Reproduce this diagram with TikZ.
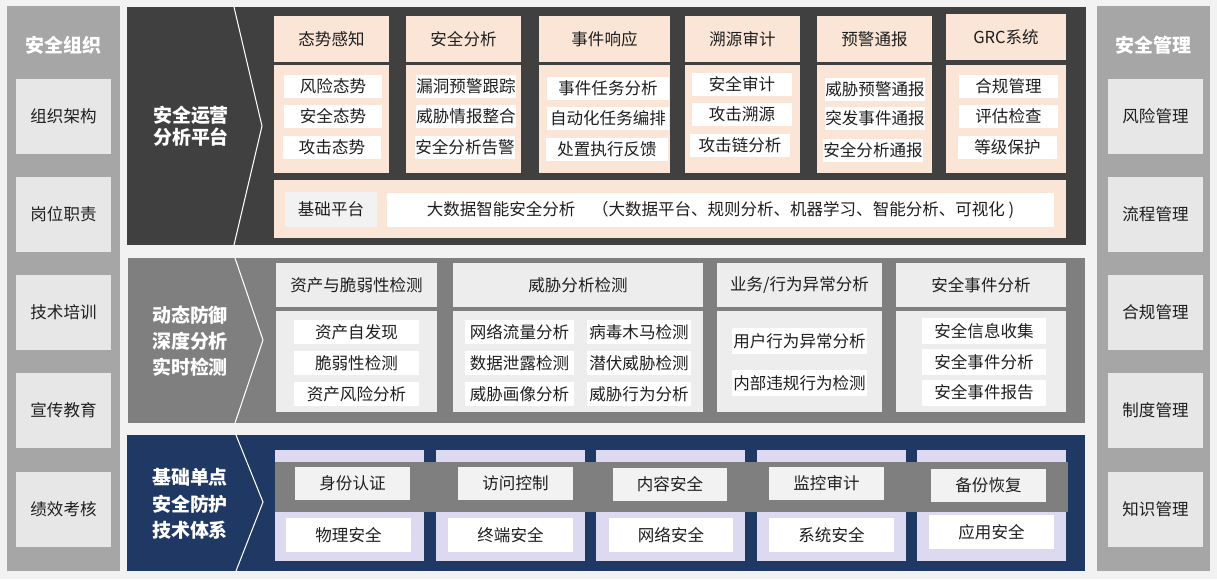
\documentclass[tikz,border=0pt]{standalone}
\usepackage{fontspec}
\setmainfont{Noto Sans CJK SC}
\usetikzlibrary{positioning}
\definecolor{cbg}{HTML}{F2F2F2}
\definecolor{cside}{HTML}{A6A6A6}
\definecolor{csideitem}{HTML}{E7E7E7}
\definecolor{cdark}{HTML}{404040}
\definecolor{cpeach}{HTML}{FBE5D6}
\definecolor{cmid}{HTML}{7F7F7F}
\definecolor{cpale}{HTML}{EDEDED}
\definecolor{clight}{HTML}{F2F2F2}
\definecolor{cnavy}{HTML}{203864}
\definecolor{clav}{HTML}{DCD9F0}
\definecolor{ctext}{HTML}{1E1E1E}
\tikzset{
  every picture/.style={font=\fontsize{9.4}{11}\selectfont},
  cell/.style={fill=#1, inner sep=0pt, align=center, text=ctext},
  cell/.default=white,
  item/.style={cell=white, minimum height=0.46cm},
  head/.style={cell=cpeach, minimum height=0.92cm},
  sideitem/.style={cell=csideitem, minimum width=1.9cm, minimum height=1.5cm},
  sidetitle/.style={text=white, font=\fontsize{10.8}{13}\selectfont\bfseries},
  layer/.style={text=white, align=center, font=\fontsize{10.8}{#1}\selectfont\bfseries},
  chevron/.style={draw=white, line width=0.6pt},
}

\begin{document}
\begin{tikzpicture}[x=0.02cm, y=-0.02cm,
    tophead/.style={head, minimum width=#1},
    topbody/.style={cell=cpeach, minimum width=#1, minimum height=2.16cm},
    midhead/.style={cell=cpale, minimum width=#1, minimum height=0.88cm},
    midbody/.style={cell=cpale, minimum width=#1, minimum height=2.02cm},
    lavcol/.style={cell=clav, minimum width=2.98cm, minimum height=2.22cm},
    bandbox/.style={cell=clight, minimum width=2.3cm, minimum height=0.66cm},
    basebox/.style={cell=white, minimum width=2.5cm, minimum height=0.68cm},
  ]
  \fill[cbg] (0,0) rectangle (1217,579);
  \useasboundingbox (0,0) rectangle (1217,579);

  % side columns
  \fill[cside] (7,6) rectangle (120,571);
  \fill[cside] (1097,6) rectangle (1210,571);
  \node[sidetitle] (orgt) at (63.5,45) {安全组织};
  \node[sideitem] (org1) at (63.5,116.5) {组织架构};
  \node[sideitem] (org2) at (63.5,214.5) {岗位职责};
  \node[sideitem] (org3) at (63.5,312.5) {技术培训};
  \node[sideitem] (org4) at (63.5,410.5) {宣传教育};
  \node[sideitem] (org5) at (63.5,509.5) {绩效考核};
  \node[sidetitle] (mgtt) at (1153.5,45) {安全管理};
  \node[sideitem] (mgt1) at (1155.5,116.5) {风险管理};
  \node[sideitem] (mgt2) at (1155.5,214.5) {流程管理};
  \node[sideitem] (mgt3) at (1155.5,312.5) {合规管理};
  \node[sideitem] (mgt4) at (1155.5,410.5) {制度管理};
  \node[sideitem] (mgt5) at (1155.5,509.5) {知识管理};

  % top layer
  \fill[cdark] (127,7) rectangle (1086,245);
  \draw[chevron] (234,7) -- (262,126) -- (234,245);
  \node[layer=12.5pt] (soc) at (191,126) {安全运营\\分析平台};

  \node[tophead=2.3cm] (sit) at (331.5,39) {态势感知};
  \node[topbody=2.3cm] (sitb) at (331.5,119) {};
  \node[item, minimum width=1.98cm] (sit1) at (333,86) {风险态势};
  \node[item, minimum width=1.98cm] (sit2) at (333,116) {安全态势};
  \node[item, minimum width=1.98cm] (sit3) at (332,147) {攻击态势};

  \node[tophead=2.3cm] (ana) at (463.5,39) {安全分析};
  \node[topbody=2.3cm] (anab) at (463.5,119) {};
  \node[item, minimum width=2.0cm] (ana1) at (466,86) {漏洞预警跟踪};
  \node[item, minimum width=2.0cm] (ana2) at (466,116) {威胁情报整合};
  \node[item, minimum width=2.0cm] (ana3) at (465,147) {安全分析告警};

  \node[tophead=2.62cm] (resp) at (604.5,39) {事件响应};
  \node[topbody=2.62cm] (respb) at (604.5,119) {};
  \node[item, minimum width=2.44cm] (resp1) at (608,88) {事件任务分析};
  \node[item, minimum width=2.44cm] (resp2) at (608,118) {自动化任务编排};
  \node[item, minimum width=2.44cm] (resp3) at (607,149) {处置执行反馈};

  \node[tophead=2.3cm] (aud) at (742.5,39) {溯源审计};
  \node[topbody=2.3cm] (audb) at (742.5,119) {};
  \node[item, minimum width=2.0cm] (aud1) at (742,84) {安全审计};
  \node[item, minimum width=2.0cm] (aud2) at (742,114) {攻击溯源};
  \node[item, minimum width=2.0cm] (aud3) at (740,145) {攻击链分析};

  \node[tophead=2.3cm] (warn) at (874.5,39) {预警通报};
  \node[topbody=2.3cm] (warnb) at (874.5,119) {};
  \node[item, minimum width=2.0cm] (warn1) at (875,89) {威胁预警通报};
  \node[item, minimum width=2.0cm] (warn2) at (875,118) {突发事件通报};
  \node[item, minimum width=2.0cm] (warn3) at (873,150) {安全分析通报};

  \node[tophead=2.4cm] (grc) at (1006,37) {GRC系统};
  \node[topbody=2.4cm] (grcb) at (1006,119) {};
  \node[item, minimum width=1.98cm] (grc1) at (1008.5,86) {合规管理};
  \node[item, minimum width=1.98cm] (grc2) at (1008.5,116) {评估检查};
  \node[item, minimum width=1.98cm] (grc3) at (1007.5,147) {等级保护};

  \node[cell=cpeach, minimum width=15.84cm, minimum height=1.16cm] (base) at (670,209) {};
  \node[cell=clight, minimum width=1.84cm, minimum height=0.7cm] (baset) at (331,209.5) {基础平台};
  \node[cell=white, minimum width=13.34cm, minimum height=0.68cm] (bigdata) at (720.5,210)
    {大数据智能安全分析　（大数据平台、规则分析、机器学习、智能分析、可视化 )};

  % middle layer
  \fill[cmid] (128,258) rectangle (1085,423);
  \draw[chevron] (235,258) -- (263,340) -- (235,423);
  \node[layer=14.8pt] (dyn) at (190,341) {动态防御\\深度分析\\实时检测};

  \node[midhead=3.22cm] (asset) at (356.5,285) {资产与脆弱性检测};
  \node[midbody=3.22cm] (assetb) at (356.5,361.5) {};
  \node[item, minimum width=2.5cm, minimum height=0.48cm] (asset1) at (356.5,332) {资产自发现};
  \node[item, minimum width=2.5cm, minimum height=0.48cm] (asset2) at (356.5,363) {脆弱性检测};
  \node[item, minimum width=2.5cm, minimum height=0.48cm] (asset3) at (356.5,394) {资产风险分析};

  \node[midhead=5.0cm] (threat) at (578,285) {威胁分析检测};
  \node[midbody=5.0cm] (threatb) at (578,361.5) {};
  \node[item, minimum width=2.18cm, minimum height=0.48cm] (threat1) at (519.5,332) {网络流量分析};
  \node[item, minimum width=2.18cm, minimum height=0.48cm] (threat2) at (519.5,363) {数据泄露检测};
  \node[item, minimum width=2.18cm, minimum height=0.48cm] (threat3) at (519.5,394) {威胁画像分析};
  \node[item, minimum width=2.08cm, minimum height=0.48cm] (threat4) at (639,332) {病毒木马检测};
  \node[item, minimum width=2.08cm, minimum height=0.48cm] (threat5) at (639,363) {潜伏威胁检测};
  \node[item, minimum width=2.08cm, minimum height=0.48cm] (threat6) at (639,394) {威胁行为分析};

  \node[midhead=3.3cm] (behav) at (799.5,285) {业务/行为异常分析};
  \node[midbody=3.3cm] (behavb) at (799.5,361.5) {};
  \node[item, minimum width=2.7cm, minimum height=0.52cm] (behav1) at (799.5,341) {用户行为异常分析};
  \node[item, minimum width=2.7cm, minimum height=0.52cm] (behav2) at (799.5,383) {内部违规行为检测};

  \node[midhead=3.4cm] (event) at (981,285) {安全事件分析};
  \node[midbody=3.4cm] (eventb) at (981,361.5) {};
  \node[item, minimum width=2.48cm, minimum height=0.52cm] (event1) at (984,331) {安全信息收集};
  \node[item, minimum width=2.48cm, minimum height=0.52cm] (event2) at (984,362) {安全事件分析};
  \node[item, minimum width=2.48cm, minimum height=0.52cm] (event3) at (984,392.5) {安全事件报告};

  % bottom layer
  \fill[cnavy] (127,435) rectangle (1085,571);
  \draw[chevron] (236,435) -- (263,502) -- (236,571);
  \node[layer=15.2pt] (basic) at (190,504) {基础单点\\安全防护\\技术体系};

  \node[lavcol] (lav1) at (349.5,505.5) {};
  \node[lavcol] (lav2) at (510.5,505.5) {};
  \node[lavcol] (lav3) at (670.5,505.5) {};
  \node[lavcol] (lav4) at (831.5,505.5) {};
  \node[lavcol] (lav5) at (991.5,505.5) {};
  \node[cell=cmid, minimum width=15.86cm, minimum height=1.0cm] (band) at (671.5,487) {};

  \node[bandbox] (auth) at (352.5,483.5) {身份认证};
  \node[bandbox] (acc) at (515.5,483.5) {访问控制};
  \node[bandbox] (cont) at (670,484) {内容安全};
  \node[bandbox] (mon) at (826.5,483.5) {监控审计};
  \node[bandbox] (bak) at (988.5,485) {备份恢复};

  \node[basebox] (phy) at (348.5,535) {物理安全};
  \node[basebox] (term) at (510.5,535) {终端安全};
  \node[basebox] (net) at (671,535) {网络安全};
  \node[basebox] (sys) at (831.5,535) {系统安全};
  \node[basebox] (app) at (991.5,532) {应用安全};
\end{tikzpicture}
\end{document}
